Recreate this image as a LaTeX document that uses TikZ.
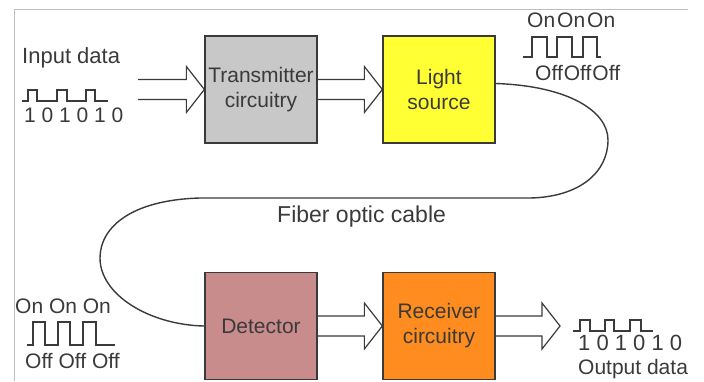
\documentclass[tikz,border=0pt]{standalone}
\usepackage{fontspec}
\setmainfont{Liberation Sans}
\usetikzlibrary{calc}

\definecolor{txgray}{HTML}{C8C8C8}
\definecolor{lsyellow}{HTML}{FFFF33}
\definecolor{detrose}{HTML}{C98C8C}
\definecolor{rxorange}{HTML}{FF8C1E}
\definecolor{ink}{HTML}{3A3A3A}

\newcommand{\hollowarrow}[2]{%
    \draw[hollow] ($(#1)+(0,-10)$) -- ($(#2)+(-18,-10)$) -- ($(#2)+(-18,-23)$) -- (#2)
        -- ($(#2)+(-18,23)$) -- ($(#2)+(-18,10)$) -- ($(#1)+(0,10)$);}

\begin{document}
\begin{tikzpicture}[x=1pt, y=-1pt,
    box/.style={draw=ink, line width=1.3pt, minimum width=112pt, minimum height=107pt,
        inner sep=0pt, align=center, text=ink, font=\fontsize{21}{25}\selectfont},
    lbl/.style={anchor=base west, inner sep=0pt, text=ink, font=\fontsize{21}{25}\selectfont},
    hollow/.style={draw=ink, line width=1.2pt, line join=miter},
    wave/.style={draw=ink, line width=1.6pt},
    cable/.style={draw=ink, line width=1.4pt}]
    \useasboundingbox (0,0) rectangle (704,381);
    \draw[gray!50, line width=0.8pt] (14,381) -- (14,9) -- (688,9);

    \node[box, fill=txgray] (trans) at (261,89.5) {Transmitter\\circuitry};
    \node[box, fill=lsyellow] (light) at (439,89.5) {Light\\source};
    \node[box, fill=detrose] (detect) at (261,326) {Detector};
    \node[box, fill=rxorange] (recv) at (439,326) {Receiver\\circuitry};

    \coordinate (intail) at (138,89.5);
    \coordinate (outhead) at (560,326);
    \hollowarrow{intail}{trans.west}
    \hollowarrow{trans.east}{light.west}
    \hollowarrow{detect.east}{recv.west}
    \hollowarrow{recv.east}{outhead}

    \draw[cable] ([yshift=6pt]light.east) .. controls (570,86) and (608,112) .. (608,140)
        .. controls (608,172) and (580,197) .. (530,198) -- (200,198)
        .. controls (130,200) and (100,228) .. (100,258)
        .. controls (100,295) and (150,325) .. (detect.west);
    \node[lbl, font=\fontsize{23}{27}\selectfont] (fiber) at (277,222) {Fiber optic cable};

    \node[lbl, font=\fontsize{22}{26}\selectfont] (inlbl) at (22,63) {Input data};
    \draw[wave] (22,101) -| (28,90) -| (37,101) -| (57,90) -| (67,101) -| (86,90) -| (95,101) -- (108,101);
    \node[lbl] (indigits) at (24,122) {1 0 1 0 1 0};

    \node[lbl] (onup) at (527,27) {On\kern2pt On\kern2pt On};
    \draw[wave] (523,57) -| (532,37) -| (547,57) -| (557,37) -| (572,57) -| (583,37) -| (597,57) -- (601,57);
    \node[lbl] (offup) at (535,80) {Off\kern1pt Off\kern1pt Off};

    \node[lbl] (ondown) at (15,313) {On On On};
    \draw[wave] (27,345) -| (33,322) -| (45,345) -| (58,322) -| (70,345) -| (83,322) -| (96,345) -- (115,345);
    \node[lbl] (offdown) at (25,368) {Off Off Off};

    \draw[wave] (573,331) -| (580,320) -| (590,331) -| (605,320) -| (614,331) -| (630,320) -| (641,331) -- (653,331);
    \node[lbl, font=\fontsize{22}{26}\selectfont] (outdigits) at (578,350) {1 0 1 0 1 0};
    \node[lbl] (outlbl) at (578,374) {Output data};
\end{tikzpicture}
\end{document}
